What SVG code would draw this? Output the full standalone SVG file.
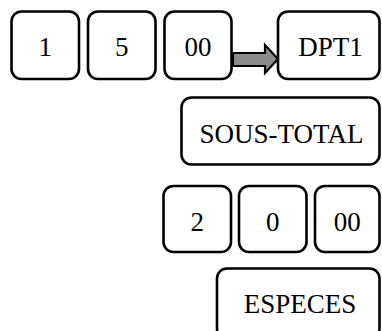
<svg xmlns="http://www.w3.org/2000/svg" width="382" height="331" viewBox="0 0 382 331">
<style>
.k{fill:#fff;stroke:#000;stroke-width:2.6}
.t{font-family:"Liberation Serif","Times New Roman",serif;font-size:27px;fill:#000;text-anchor:middle}
</style>
<rect width="382" height="331" fill="#fff"/>
<g id="connectors">
<polygon points="233,53 265,53 265,45 278,59 265,73 265,66 233,66" fill="#8c8c8c" stroke="#000" stroke-width="2.2" stroke-linejoin="miter"/>
</g>
<g id="k1"><rect class="k" x="11.5" y="11.5" width="67.5" height="67.5" rx="10"/><text class="t" x="45.2" y="56">1</text></g>
<g id="k5"><rect class="k" x="88" y="11.5" width="67.5" height="67.5" rx="10"/><text class="t" x="121.7" y="56">5</text></g>
<g id="k00a"><rect class="k" x="164.5" y="11.5" width="67" height="67.5" rx="10"/><text class="t" x="198" y="56">00</text></g>
<g id="dpt1"><rect class="k" x="278" y="11.5" width="101.5" height="67.5" rx="10"/><text class="t" x="330.5" y="56">DPT1</text></g>
<g id="soustotal"><rect class="k" x="181.5" y="97.5" width="198" height="67" rx="10"/><text class="t" x="281.5" y="142.5">SOUS-TOTAL</text></g>
<g id="k2"><rect class="k" x="163.5" y="186" width="67.5" height="66" rx="10"/><text class="t" x="197.2" y="230.5">2</text></g>
<g id="k0"><rect class="k" x="239" y="186" width="67.5" height="66" rx="10"/><text class="t" x="272.7" y="230.5">0</text></g>
<g id="k00b"><rect class="k" x="315" y="186" width="64.5" height="66" rx="10"/><text class="t" x="347.2" y="230.5">00</text></g>
<g id="especes"><rect class="k" x="217" y="268.5" width="162.5" height="70" rx="10"/><text class="t" x="300" y="313">ESPECES</text></g>
</svg>
